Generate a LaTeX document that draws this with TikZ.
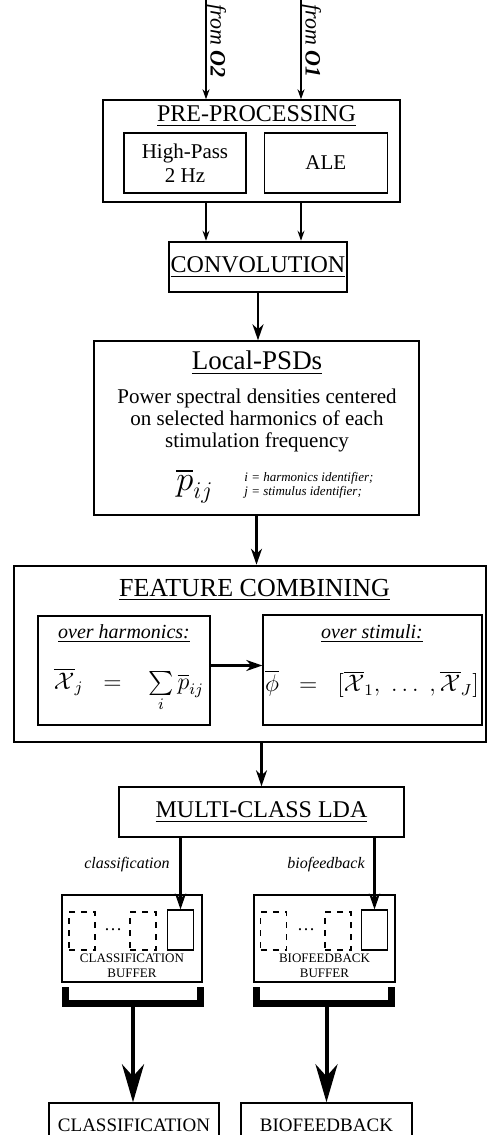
\documentclass[tikz,border=0pt]{standalone}
\usepackage{exscale}
\usepackage{fontspec}
\setmainfont{Liberation Serif}
\usetikzlibrary{arrows.meta, positioning, calc}

\begin{document}
\begin{tikzpicture}[
    x=0.5pt, y=-0.5pt,
    stage/.style={draw, line width=0.7pt, align=center, inner sep=0pt},
    stagethick/.style={stage, line width=1.3pt},
    heading/.style={font=\fontsize{12}{14}\selectfont},
    slot/.style={draw, line width=0.6pt, minimum width=13pt, minimum height=19pt, inner sep=0pt},
    emptyslot/.style={slot, dashed},
    feed/.style={-{Stealth[length=5pt,width=3.5pt]}, line width=0.6pt},
    flow/.style={-{Stealth[length=8pt,width=5.5pt,inset=2.5pt]}, line width=1.1pt},
    bigflow/.style={-{Stealth[length=19pt,width=11pt,inset=6pt]}, line width=2pt},
    brace/.style={line width=3.5pt, line join=miter}
]
    \clip (0,0) rectangle (488,1135);

    \coordinate (o2) at (206,0);
    \coordinate (o1) at (301,0);
    \node[rotate=-90, anchor=west, inner sep=0pt, font=\fontsize{11}{13}\selectfont] (o2lbl) at (216,4) {\textit{from} \textbf{\textit{O2}}};
    \node[rotate=-90, anchor=west, inner sep=0pt, font=\fontsize{11}{13}\selectfont] (o1lbl) at (311,4) {\textit{from} \textbf{\textit{O1}}};

    \node[stage, minimum width=148.5pt, minimum height=51pt] (pre) at (251.5,151) {};
    \node[heading] (pretitle) at (256.5,116) {\underline{PRE-PROCESSING}};
    \node[stage, minimum width=61pt, minimum height=30pt, font=\fontsize{10.5}{12}\selectfont] (hp) at (185,163) {High-Pass\\2 Hz};
    \node[stage, minimum width=61.5pt, minimum height=30pt, font=\fontsize{10.5}{12}\selectfont, right=8.5pt of hp] (ale) {ALE};

    \node[stagethick, heading, minimum width=89pt, minimum height=25pt] (conv) at (258,267) {\underline{CONVOLUTION}};

    \node[stage, minimum width=162.5pt, minimum height=87pt] (psd) at (256.5,428) {};
    \node[font=\fontsize{13.5}{15}\selectfont] (psdtitle) at (257,363) {\underline{Local-PSDs}};
    \node[align=center, font=\fontsize{10.5}{11}\selectfont] (psdtext) at (257,420) {Power spectral densities centered\\on selected harmonics of each\\stimulation frequency};
    \node[font=\fontsize{18}{20}\selectfont] (pij) at (195,486) {$\overline{p}_{ij}$};
    \node[anchor=west, align=left, inner sep=0pt, font=\fontsize{6.5}{7}\selectfont\itshape] (pijnote) at (244,485) {i = harmonics identifier;\\j = stimulus identifier;};

    \node[stagethick, minimum width=236pt, minimum height=88pt] (feat) at (250,654) {};
    \node[font=\fontsize{13}{15}\selectfont] (feattitle) at (254.5,590) {\underline{FEATURE COMBINING}};
    \node[stage, minimum width=86pt, minimum height=54.5pt] (harm) at (124,670.5) {};
    \node[stage, minimum width=109.5pt, minimum height=55pt] (stim) at (372.5,670) {};
    \node[font=\fontsize{10}{12}\selectfont\itshape] (harmtitle) at (124,634) {\underline{over harmonics:}};
    \node[font=\fontsize{10}{12}\selectfont\itshape] (stimtitle) at (372,634) {\underline{over stimuli:}};
    \node[font=\fontsize{12}{14}\selectfont] (harmeq) at (129,690) {$\overline{\mathcal{X}}_j \;\;=\;\;\; \sum\limits_i \overline{p}_{ij}$};
    \node[font=\fontsize{12}{14}\selectfont] (stimeq) at (372,684) {$\overline{\phi} \;\;=\;\; [\overline{\mathcal{X}}_1,\;\ldots\;,\overline{\mathcal{X}}_J]$};

    \node[stage, heading, minimum width=142.5pt, minimum height=25pt] (lda) at (261.5,812) {\underline{MULTI-CLASS LDA}};

    \node[stage, minimum width=70pt, minimum height=43.5pt] (cbuf) at (132,938.5) {};
    \node[emptyslot] (cold1) at (82,931) {};
    \node[emptyslot] (cold2) at (143,931) {};
    \node[slot, minimum height=20pt] (cnew) at (180.5,930) {};
    \node[font=\fontsize{9}{10}\selectfont] (cdots) at (113,930) {\dots};
    \node[align=center, font=\fontsize{6.5}{7.5}\selectfont] (cbuflbl) at (132,966) {CLASSIFICATION\\BUFFER};

    \node[stage, minimum width=70.5pt, minimum height=43.5pt] (bbuf) at (324.5,938.5) {};
    \node[emptyslot] (bold1) at (273.5,931) {};
    \node[emptyslot] (bold2) at (338,931) {};
    \node[slot, minimum height=20pt] (bnew) at (374.5,930) {};
    \node[font=\fontsize{9}{10}\selectfont] (bdots) at (306,930) {\dots};
    \node[align=center, font=\fontsize{6.5}{7.5}\selectfont] (bbuflbl) at (324.5,966) {BIOFEEDBACK\\BUFFER};

    \node[font=\fontsize{8}{10}\selectfont\itshape] (clbl) at (127,865) {classification};
    \node[font=\fontsize{8}{10}\selectfont\itshape] (blbl) at (326,865) {biofeedback};

    \node[stage, minimum width=85pt, minimum height=22pt, font=\fontsize{9.5}{11}\selectfont] (class) at (134,1125) {CLASSIFICATION};
    \node[stage, minimum width=85.5pt, minimum height=22pt, font=\fontsize{9.5}{11}\selectfont] (bio) at (326.5,1125) {BIOFEEDBACK};

    \coordinate (cjoin) at (133,1003.5);
    \coordinate (bjoin) at (326.5,1003.5);

    \draw[feed] (o2) -- (o2 |- pre.north);
    \draw[feed] (o1) -- (o1 |- pre.north);
    \draw[feed] (o2 |- pre.south) -- (o2 |- conv.north);
    \draw[feed] (o1 |- pre.south) -- (o1 |- conv.north);
    \draw[flow] (conv.south) -- (conv.south |- psd.north);
    \draw[flow] (psd.south) -- (psd.south |- feat.north);
    \draw[flow] ([yshift=2.5pt]harm.east) -- ([yshift=2.5pt]harm.east -| stim.west);
    \draw[flow] (lda.north |- feat.south) -- (lda.north);
    \draw[flow] (cnew.north |- lda.south) -- (cnew.north);
    \draw[flow] (bnew.north |- lda.south) -- (bnew.north);

    \draw[brace] (65.5,987) -- (65.5,1003.5) -- (200,1003.5) -- (200,987);
    \draw[brace] (256.5,987) -- (256.5,1003.5) -- (391,1003.5) -- (391,987);
    \draw[bigflow] (cjoin) -- (cjoin |- class.north);
    \draw[bigflow] (bjoin) -- (bjoin |- bio.north);
\end{tikzpicture}
\end{document}
